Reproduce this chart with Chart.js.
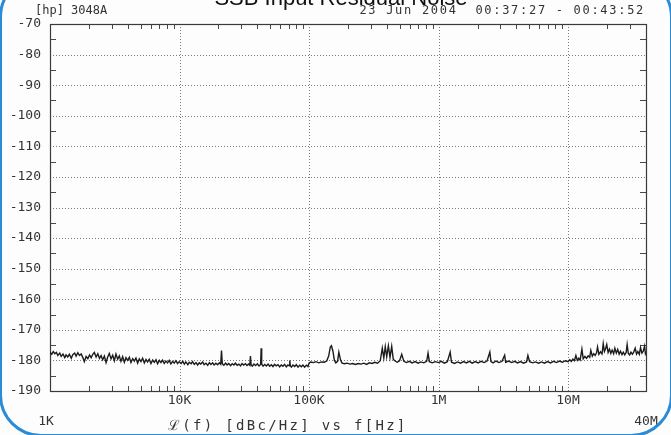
<!DOCTYPE html>
<html>
<head>
<meta charset="utf-8">
<script src="https://cdn.jsdelivr.net/npm/chart.js@4.4.1/dist/chart.umd.min.js"></script>
<style>
  html, body { margin: 0; padding: 0; background: #fff; overflow: hidden; }
  #wrap { position: relative; width: 671px; height: 435px; overflow: hidden; background: #fdfdfd; }
  #wrap canvas { position: absolute; left: 0; top: 0; }
  .txt { position: absolute; font-family: "DejaVu Sans Mono", monospace; color: #333; white-space: pre; line-height: 14px; }
  #title { position: absolute; left: 0; width: 682px; text-align: center; top: -13px; line-height: 22px;
           font-family: "Liberation Sans", Arial, sans-serif; font-size: 22px; color: #111; }
  #hdrL { left: 35px; top: 3px; font-size: 12px; }
  #hdrR { right: 26px; top: 3px; font-size: 12px; letter-spacing: 1.7px; }
  #caption { left: 168px; top: 418px; font-size: 14px; letter-spacing: 2.3px; }
  #frame { position: absolute; left: -1px; top: -25px; width: 674px; height: 462px; box-sizing: border-box;
           border: 3px solid #2a8bd6; border-radius: 42px; pointer-events: none; }
</style>
</head>
<body>
<div id="wrap">
  <canvas id="chart"></canvas>
  <div id="title">SSB Input Residual Noise</div>
  <div class="txt" id="hdrL">[hp] 3048A</div>
  <div class="txt" id="hdrR">23 Jun 2004  00:37:27 - 00:43:52</div>
  <div class="txt" id="caption">ℒ(f) [dBc/Hz] vs f[Hz]</div>
  <div id="frame"></div>
</div>
<script>
// axis ticks
const yTicks = [-70, -80, -90, -100, -110, -120, -130, -140, -150, -160, -170, -180, -190];
const xTicks = [1e3, 1e4, 1e5, 1e6, 1e7, 4e7];
const xTickLabels = ['1K ', '10K', '100K', '1M', '10M', '40M'];

// measured trace: offset frequency (Hz) and L(f) (dBc/Hz)
const freqHz = [
  // 1K - 10K
  1000, 1030, 1060, 1090, 1120, 1150, 1190, 1220, 1260, 1300, 1330, 1370, 1410, 1460, 1500, 1550,
  1590, 1640, 1690, 1740, 1790, 1840, 1900, 1960, 2020, 2080, 2140, 2200, 2270, 2340, 2410, 2480,
  2550, 2630, 2710, 2790, 2870, 2960, 3050, 3140, 3230, 3330, 3430, 3530, 3640, 3750, 3860, 3980,
  4100, 4220, 4350, 4480, 4610, 4750, 4890, 5040, 5190, 5350, 5510, 5670, 5840, 6020, 6200, 6390,
  6580, 6770, 6980, 7190, 7400, 7620, 7850, 8090, 8330, 8580, 8840, 9100, 9370, 9660, 9950,
  // 10K - 100K
  10300, 10600, 10900, 11200, 11600, 11900, 12300, 12600, 13000, 13400, 13800, 14200, 14600, 15100,
  15500, 16000, 16500, 17000, 17500, 18000, 18500, 19100, 19700, 20300, 20800, 21100, 21400, 22000,
  22700, 23300, 24000, 24800, 25500, 26300, 27000, 27900, 28700, 29600, 30400, 31300, 32300, 33200,
  34200, 34900, 35300, 35700, 36500, 37600, 38700, 39900, 41100, 42300, 42700, 43100, 44200, 45500,
  46900, 48300, 49700, 51200, 52700, 54300, 55900, 57600, 59300, 61100, 62900, 64800, 66800, 68700,
  70300, 71000, 71700, 73000, 75200, 77500, 79800, 82200, 84700, 87200, 89800, 92500, 95300, 98100,
  // 100K - 1M
  100000, 103000, 108000, 113000, 119000, 125000, 131000, 137000, 142000, 146000, 149000, 153000,
  157000, 161000, 166000, 170000, 175000, 180000, 188000, 197000, 207000, 217000, 228000, 240000,
  252000, 265000, 278000, 292000, 307000, 322000, 338000, 355000, 368000, 378000, 388000, 398000,
  410000, 422000, 435000, 447000, 462000, 480000, 500000, 520000, 540000, 565000, 595000, 625000,
  660000, 695000, 730000, 770000, 810000, 830000, 850000, 895000, 945000,
  // 1M - 10M
  1000000, 1050000, 1110000, 1170000, 1230000, 1260000, 1330000, 1400000, 1480000, 1560000, 1640000,
  1730000, 1820000, 1920000, 2020000, 2130000, 2250000, 2370000, 2490000, 2540000, 2640000, 2780000,
  2930000, 3090000, 3240000, 3300000, 3480000, 3670000, 3870000, 4080000, 4300000, 4530000, 4780000,
  4900000, 5050000, 5320000, 5610000, 5920000, 6240000, 6580000, 6940000, 7320000, 7720000, 8140000,
  8580000, 9050000, 9540000,
  // 10M - 40M
  10000000, 10300000, 10600000, 10900000, 11200000, 11500000, 11800000, 12100000, 12400000, 12800000,
  13100000, 13500000, 13900000, 14300000, 14700000, 15000000, 15400000, 15800000, 16200000, 16600000,
  16900000, 17300000, 17800000, 18300000, 18700000, 19100000, 19500000, 19900000, 20400000, 20900000,
  21400000, 21900000, 22500000, 23000000, 23600000, 24200000, 24800000, 25400000, 26100000, 26700000,
  27400000, 28100000, 28600000, 29200000, 29900000, 30600000, 31400000, 32200000, 33000000, 33800000,
  34600000, 35500000, 36300000, 37200000, 38100000, 39000000, 39600000, 40000000
];
const noiseDbc = [
  // 1K - 10K
  -177.3, -178.0, -177.1, -177.8, -177.4, -178.4, -177.6, -178.7, -177.9, -179.1, -178.2, -178.9, -178.0, -179.3, -178.1, -177.6,
  -178.6, -177.5, -178.4, -177.9, -179.0, -180.4, -178.7, -179.4, -178.2, -179.1, -178.0, -177.4, -178.9, -177.8, -179.3, -178.4,
  -179.8, -178.6, -180.7, -178.9, -177.7, -179.5, -178.3, -180.1, -177.9, -179.6, -178.5, -180.3, -178.8, -180.6, -179.1, -180.0,
  -179.0, -180.7, -179.4, -180.2, -179.2, -180.9, -179.5, -180.4, -179.3, -180.8, -179.7, -180.5, -179.6, -181.0, -179.9, -180.6,
  -179.8, -181.1, -180.0, -180.7, -179.9, -181.0, -180.2, -180.8, -180.0, -181.1, -180.3, -180.9, -180.1, -181.0, -180.4,
  // 10K - 100K
  -181.0, -180.3, -181.2, -180.5, -181.4, -180.6, -181.1, -180.4, -181.3, -180.7, -181.5, -180.8, -181.2, -180.5,
  -181.4, -180.9, -181.6, -180.7, -181.3, -180.8, -181.5, -180.9, -181.4, -180.8, -181.3, -176.8, -181.1, -181.6,
  -180.9, -181.5, -181.0, -181.7, -181.1, -181.5, -180.9, -181.6, -181.2, -181.8, -181.0, -181.5, -181.1, -181.7,
  -181.2, -181.6, -178.6, -181.4, -181.9, -181.2, -181.7, -181.1, -181.8, -181.3, -176.0, -181.2, -181.9, -181.3,
  -181.8, -181.2, -181.9, -181.4, -182.0, -181.3, -181.8, -181.4, -182.1, -181.5, -181.9, -181.3, -182.1, -181.5,
  -181.8, -180.0, -181.7, -182.2, -181.5, -182.0, -181.4, -182.2, -181.6, -182.1, -181.5, -182.2, -181.6, -182.0,
  // 100K - 1M
  -180.9, -180.5, -180.7, -180.4, -180.8, -180.5, -180.6, -180.2, -178.5, -175.6, -175.2, -177.0,
  -180.0, -180.8, -180.3, -177.3, -179.8, -180.9, -181.1, -180.9, -181.2, -181.0, -181.3, -181.0,
  -181.2, -180.9, -181.3, -180.8, -181.0, -180.6, -180.9, -180.1, -176.0, -179.2, -175.5, -178.8,
  -175.2, -179.0, -175.4, -179.6, -180.2, -180.6, -180.1, -178.0, -180.3, -180.7, -180.3, -180.8,
  -180.4, -180.9, -180.5, -180.8, -180.3, -177.6, -180.4, -180.8, -180.4,
  // 1M - 10M
  -180.7, -180.3, -180.9, -180.4, -177.3, -180.6, -181.0, -180.5, -180.9, -180.4, -180.8,
  -180.3, -180.9, -180.4, -180.8, -180.3, -180.7, -180.2, -177.3, -180.4, -180.8, -180.2,
  -180.7, -180.3, -178.3, -180.6, -180.2, -180.7, -180.3, -180.8, -180.4, -180.9, -180.5,
  -178.4, -180.4, -180.8, -180.5, -180.9, -180.5, -180.9, -180.4, -180.8, -180.3, -180.7,
  -180.2, -180.6, -180.1,
  // 10M - 40M
  -180.4, -179.8, -180.3, -179.6, -180.1, -178.4, -180.0, -179.3, -179.9, -176.3,
  -179.5, -178.7, -179.3, -178.5, -179.0, -176.7, -178.6, -177.8, -178.4, -177.5,
  -175.6, -178.0, -177.2, -177.9, -174.5, -177.1, -176.2, -174.8, -177.4, -176.3,
  -177.7, -176.6, -177.8, -176.0, -177.6, -176.4, -178.0, -177.0, -178.1, -177.3,
  -178.2, -177.4, -174.8, -177.7, -178.2, -177.3, -178.0, -177.2, -176.0, -177.9,
  -177.1, -178.0, -175.8, -177.6, -177.0, -175.3, -177.8, -177.4
];

const TEXT = '#333';
const MONO = '"DejaVu Sans Mono", monospace';

// dotted decade grid, plotter frame and inward minor ticks, all placed through the scales
const plotterGrid = {
  id: 'plotterGrid',
  beforeDatasetsDraw(chart) {
    const { ctx, chartArea: a, scales: { x, y } } = chart;
    ctx.save();
    ctx.lineWidth = 1;
    ctx.strokeStyle = '#7a7a7a';
    ctx.setLineDash([1, 2]);
    ctx.beginPath();
    xTicks.slice(1, -1).forEach(v => {
      const px = Math.round(x.getPixelForValue(v)) + 0.5;
      ctx.moveTo(px, a.top); ctx.lineTo(px, a.bottom);
    });
    yTicks.slice(1, -1).forEach(v => {
      const py = Math.round(y.getPixelForValue(v)) + 0.5;
      ctx.moveTo(a.left, py); ctx.lineTo(a.right, py);
    });
    ctx.stroke();

    ctx.setLineDash([]);
    ctx.strokeStyle = '#4a4a4a';
    ctx.beginPath();
    // minor frequency ticks 2..9 per decade
    for (let d = 1e3; d < 4e7; d *= 10) {
      for (let m = 2; m <= 9; m++) {
        const v = d * m;
        if (v >= 4e7) break;
        const px = Math.round(x.getPixelForValue(v)) + 0.5;
        ctx.moveTo(px, a.top); ctx.lineTo(px, a.top + 5);
        ctx.moveTo(px, a.bottom); ctx.lineTo(px, a.bottom - 5);
      }
    }
    // 5 dB ticks on both sides
    for (let v = -75; v > -190; v -= 10) {
      const py = Math.round(y.getPixelForValue(v)) + 0.5;
      ctx.moveTo(a.left, py); ctx.lineTo(a.left + 6, py);
      ctx.moveTo(a.right, py); ctx.lineTo(a.right - 6, py);
    }
    ctx.stroke();

    ctx.lineWidth = 1.2;
    ctx.strokeStyle = '#3a3a3a';
    ctx.strokeRect(Math.round(a.left) + 0.5, Math.round(a.top) + 0.5, Math.round(a.width), Math.round(a.height));
    ctx.restore();
  }
};

new Chart(document.getElementById('chart'), {
  type: 'line',
  data: {
    datasets: [{
      data: freqHz.map((f, i) => ({ x: f, y: noiseDbc[i] })),
      borderColor: '#1c1c1c',
      borderWidth: 1.4,
      pointRadius: 0,
      tension: 0,
      fill: false
    }]
  },
  options: {
    responsive: true,
    maintainAspectRatio: false,
    animation: false,
    layout: { padding: { top: 24, right: 25, left: 0, bottom: 0 } },
    plugins: { legend: { display: false }, tooltip: { enabled: false }, title: { display: false } },
    scales: {
      x: {
        type: 'logarithmic',
        min: 1e3,
        max: 4e7,
        afterBuildTicks: s => { s.ticks = xTicks.map(v => ({ value: v })); },
        afterFit: s => { s.height = 44; },
        grid: { display: false, drawTicks: false, tickLength: 0 },
        border: { display: false },
        ticks: {
          autoSkip: false,
          maxRotation: 0,
          padding: -1,
          color: TEXT,
          font: { family: MONO, size: 13, lineHeight: 1.6 },
          callback: function (v) {
            const i = xTicks.indexOf(v);
            if (i < 0) return '';
            return (i === 0 || i === xTicks.length - 1) ? ['', xTickLabels[i]] : xTickLabels[i];
          }
        }
      },
      y: {
        min: -190,
        max: -70,
        afterBuildTicks: s => { s.ticks = yTicks.map(v => ({ value: v })); },
        afterFit: s => { s.width = 50; },
        grid: { display: false, drawTicks: false, tickLength: 0 },
        border: { display: false },
        ticks: {
          padding: 9,
          color: TEXT,
          font: { family: MONO, size: 13 },
          callback: v => String(v)
        }
      }
    }
  },
  plugins: [plotterGrid]
});
</script>
</body>
</html>
